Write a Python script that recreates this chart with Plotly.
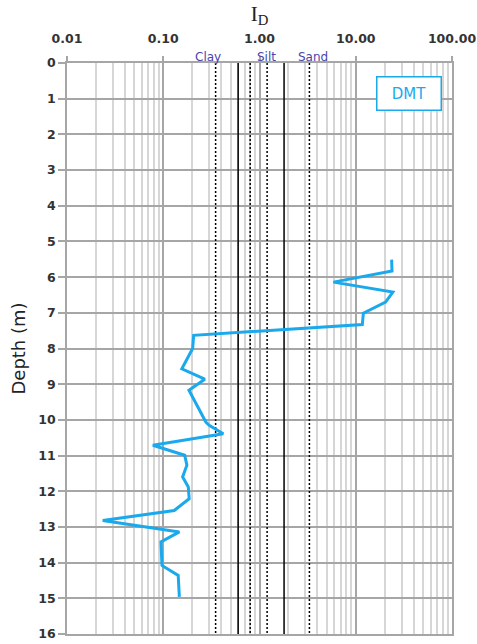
import math
import plotly.graph_objects as go

# DMT material index profile
depth_m = [5.51, 5.83, 6.14, 6.42, 6.70, 7.01, 7.33, 7.63, 8.00, 8.57, 8.86, 9.17,
           10.06, 10.15, 10.39, 10.71, 10.99, 11.27, 11.60, 11.88, 12.21, 12.54,
           12.82, 13.14, 13.42, 14.08, 14.36, 14.96]
id_values = [23.6, 23.8, 5.86, 24.3, 20.4, 12.0, 11.7, 0.207, 0.202, 0.156, 0.27, 0.185,
             0.277, 0.30, 0.42, 0.078, 0.167, 0.176, 0.159, 0.182, 0.186, 0.130,
             0.0235, 0.147, 0.0947, 0.097, 0.143, 0.147]

# Soil classification boundaries (Marchetti)
main_bounds = [0.6, 1.8]
sub_bounds = [0.35, 0.8, 1.2, 3.3]
zone_labels = ["Clay", "Silt", "Sand"]
zone_label_pos = [0.29, 1.19, 3.6]

x_tickvals = [0.01, 0.1, 1, 10, 100]
x_ticktext = ["0.01", "0.10", "1.00", "10.00", "100.00"]
minor_vals = [m * d for d in [0.01, 0.1, 1, 10] for m in range(2, 10)]
depth_range = [0, 16]

BLUE = "#1aa9ec"
GRID_MAJOR = "#a6a6a6"
GRID_MINOR = "#d6d6d6"

fig = go.Figure()

for xb in main_bounds:
    fig.add_trace(go.Scatter(x=[xb, xb], y=depth_range, mode="lines",
                             line=dict(color="black", width=1.5),
                             showlegend=False, hoverinfo="skip"))
for xb in sub_bounds:
    fig.add_trace(go.Scatter(x=[xb, xb], y=depth_range, mode="lines",
                             line=dict(color="black", width=1.5, dash="2px,2px"),
                             showlegend=False, hoverinfo="skip"))

fig.add_trace(go.Scatter(x=id_values, y=depth_m, mode="lines", name="DMT",
                         line=dict(color=BLUE, width=3), showlegend=False))

for lbl, xp in zip(zone_labels, zone_label_pos):
    fig.add_annotation(x=math.log10(xp), y=1, xref="x", yref="paper",
                       yanchor="bottom", text=lbl, showarrow=False, yshift=-3,
                       font=dict(family="DejaVu Sans", size=12, color="#4646ad"))

fig.add_annotation(x=0.8891, y=0.9466, xref="paper", yref="paper",
                   text="DMT", showarrow=False, xanchor="center", yanchor="middle",
                   width=61, height=30, borderpad=1, bordercolor=BLUE, borderwidth=1.5,
                   bgcolor="white",
                   font=dict(family="DejaVu Sans", size=15, color=BLUE))

fig.update_layout(
    width=477, height=644,
    margin=dict(l=66.5, r=24.7, t=62.5, b=10.3),
    paper_bgcolor="white", plot_bgcolor="white",
    showlegend=False,
    xaxis=dict(
        type="log", range=[-2, 2], side="top", automargin=False,
        tickvals=x_tickvals, ticktext=x_ticktext,
        ticks="outside", ticklen=5, tickcolor=GRID_MAJOR, tickwidth=1.5,
        ticklabelstandoff=8,
        tickfont=dict(family="DejaVu Sans", size=12.5, color="#333333", weight="bold"),
        showgrid=True, gridcolor=GRID_MAJOR, gridwidth=1.5,
        minor=dict(tickvals=minor_vals, showgrid=True, gridcolor=GRID_MINOR,
                   gridwidth=1.5, ticks=""),
        showline=True, linecolor=GRID_MAJOR, linewidth=1.5, mirror=True,
        title=dict(text="I<sub>D</sub>", standoff=4,
                   font=dict(family="Liberation Serif", size=21, color="#222222")),
        zeroline=False,
    ),
    yaxis=dict(
        range=[16, 0], dtick=1, tick0=0, automargin=False,
        ticks="outside", ticklen=7, tickcolor=GRID_MAJOR, tickwidth=1.5,
        tickfont=dict(family="DejaVu Sans", size=12.5, color="#333333", weight="bold"),
        showgrid=True, gridcolor=GRID_MAJOR, gridwidth=1.5,
        showline=True, linecolor=GRID_MAJOR, linewidth=1.5, mirror=True,
        title=dict(text="Depth (m)", standoff=8,
                   font=dict(family="DejaVu Sans", size=18, color="#222222")),
        zeroline=False,
    ),
)

fig.write_html("out.html")
